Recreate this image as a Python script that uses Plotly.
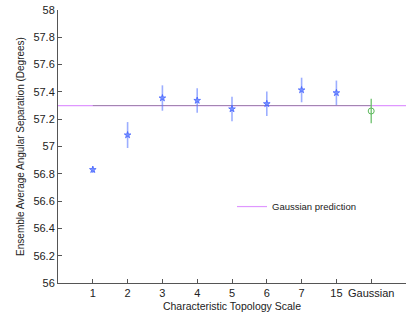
import plotly.graph_objects as go

categories = ["1", "2", "3", "4", "5", "6", "7", "15", "Gaussian"]
topo_values = [56.83, 57.084, 57.355, 57.337, 57.275, 57.313, 57.414, 57.393]
topo_errors = [0.025, 0.095, 0.093, 0.09, 0.09, 0.09, 0.09, 0.09]
gauss_value = 57.26
gauss_error = 0.09
gauss_prediction = 57.30

xpos = list(range(1, len(categories) + 1))

fig = go.Figure()
fig.add_trace(go.Scatter(
    x=[0, 10], y=[gauss_prediction, gauss_prediction], mode="lines",
    line=dict(color="rgba(220,140,255,0.9)", width=1.2),
    name="Gaussian prediction", showlegend=True))
fig.add_trace(go.Scatter(
    x=[xpos[0], xpos[-1]], y=[gauss_prediction, gauss_prediction], mode="lines",
    line=dict(color="rgba(120,120,120,0.6)", width=1), showlegend=False, hoverinfo="skip"))
fig.add_trace(go.Scatter(
    x=xpos[:len(topo_values)], y=topo_values, mode="markers",
    marker=dict(symbol="star", size=5, color="rgba(110,140,255,0.85)",
                line=dict(color="rgba(60,90,255,0.9)", width=0.8)),
    error_y=dict(type="data", array=topo_errors, visible=True, width=0,
                 thickness=1.6, color="rgba(90,120,255,0.6)"),
    showlegend=False))
fig.add_trace(go.Scatter(
    x=[xpos[-1]], y=[gauss_value], mode="markers",
    marker=dict(symbol="circle-open", size=6, color="#5cb85c", line=dict(width=1)),
    error_y=dict(type="data", array=[gauss_error], visible=True, width=0,
                 thickness=1.3, color="#6cc06c"),
    showlegend=False))

font = dict(family="Liberation Sans, Arial, sans-serif", size=11, color="#222")
fig.update_layout(
    width=409, height=318,
    margin=dict(l=58, r=3, t=10, b=35),
    paper_bgcolor="white", plot_bgcolor="white",
    font=font,
    xaxis=dict(range=[0, 10], tickvals=xpos, ticktext=categories, automargin=False,
               showgrid=False, zeroline=False, showline=True, linecolor="#555",
               linewidth=1, ticks="inside", ticklen=4, tickcolor="#555",
               title=dict(text="Characteristic Topology Scale", standoff=4,
                          font=dict(size=10.5))),
    yaxis=dict(range=[56, 58], dtick=0.2, showgrid=False, zeroline=False,
               showline=True, linecolor="#555", linewidth=1, ticks="inside",
               ticklen=4, tickcolor="#555", automargin=False,
               title=dict(text="Ensemble Average Angular Separation (Degrees)",
                          standoff=6, font=dict(size=10))),
    legend=dict(x=0.5, y=0.28, xanchor="left", yanchor="middle",
                bgcolor="rgba(0,0,0,0)", font=dict(size=9.5)),
)
fig.write_html("out.html", config={"displayModeBar": False},
               post_script="document.body.style.margin='0';document.body.style.overflow='hidden';")
